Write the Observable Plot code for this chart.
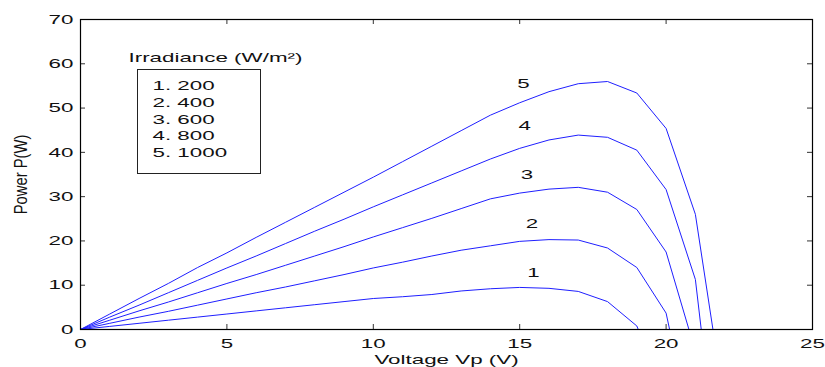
<!DOCTYPE html>
<html><head><meta charset="utf-8">
<script src="https://cdn.jsdelivr.net/npm/d3@7"></script>
<script src="https://cdn.jsdelivr.net/npm/@observablehq/plot@0.6"></script>
<style>
body{margin:0;background:#fff;}
#wrap{position:relative;width:825px;height:367px;}
#box{position:absolute;left:137px;top:69px;width:122px;height:103px;border:1px solid #222;pointer-events:none;}
</style></head><body><div id="wrap"><div id="box"></div></div>
<script>
// ---- data ----
const seriesNames = ["1", "2", "3", "4", "5"];
const irradiance = [200, 400, 600, 800, 1000];

const v200  = [0,1,2,3,4,5,6,7,8,9,10,11,12,13,14,15,16,17,18,19,19.05];
const p200  = [0,0.7,1.4,2.1,2.8,3.5,4.2,4.9,5.6,6.3,7.0,7.4,7.9,8.7,9.2,9.5,9.3,8.6,6.3,0.8,0];

const v400  = [0,1,2,3,4,5,6,7,8,9,10,11,12,13,14,15,16,17,18,19,20,20.12];
const p400  = [0,1.4,2.8,4.1,5.5,6.9,8.3,9.6,11.0,12.4,13.9,15.2,16.6,17.9,18.9,19.9,20.3,20.2,18.4,14.0,3.7,0];

const v600  = [0,1,2,3,4,5,6,7,8,9,10,11,12,13,14,15,16,17,18,19,20,20.78];
const p600  = [0,2.1,4.2,6.2,8.3,10.4,12.4,14.5,16.6,18.7,20.9,23.0,25.1,27.3,29.5,30.8,31.7,32.1,31.0,27.1,17.5,0];

const v800  = [0,1,2,3,4,5,6,7,8,9,10,11,12,13,14,15,16,17,18,19,20,21,21.2];
const p800  = [0,2.8,5.5,8.3,11.1,13.9,16.6,19.4,22.2,24.9,27.7,30.4,33.1,35.8,38.5,40.9,42.8,43.9,43.4,40.5,31.6,11.3,0];

const v1000 = [0,1,2,3,4,5,6,7,8,9,10,11,12,13,14,15,16,17,18,19,20,21,21.6];
const p1000 = [0,3.5,7.0,10.4,14.0,17.3,20.8,24.2,27.6,31.0,34.4,37.9,41.4,44.9,48.4,51.2,53.7,55.5,56.0,53.4,45.4,26.0,0];

const labelV = [15.47, 15.42, 15.25, 15.17, 15.13];
const labelP = [12.7, 23.8, 35.0, 45.9, 55.4];

const xTicks = [0, 5, 10, 15, 20, 25];
const yTicks = [0, 10, 20, 30, 40, 50, 60, 70];
const xLabel = "Voltage Vp (V)";
const yLabel = "Power P(W)";
const legendTitle = "Irradiance (W/m²)";
const legendItems = ["1. 200", "2. 400", "3. 600", "4. 800", "5. 1000"];

// ---- build table ----
const vs = [v200, v400, v600, v800, v1000];
const ps = [p200, p400, p600, p800, p1000];
const rows = vs.flatMap((v, s) => v.map((x, i) => ({s: irradiance[s], v: x, p: ps[s][i]})));
const labels = seriesNames.map((n, i) => ({n, v: labelV[i], p: labelP[i]}));

const W = 825, H = 367, mL = 80, mR = 13, mT = 19, mB = 38;
const fw = W - mL - mR, fh = H - mT - mB;
const font = "'Liberation Sans', Arial, Helvetica, sans-serif";

const plot = Plot.plot({
  width: W, height: H,
  marginLeft: mL, marginRight: mR, marginTop: mT, marginBottom: mB,
  style: {fontFamily: font, fontSize: "13px", color: "#111", background: "#fff", overflow: "visible"},
  x: {domain: [0, 25], ticks: xTicks},
  y: {domain: [0, 70], ticks: yTicks},
  marks: [
    Plot.line(rows, {x: "v", y: "p", z: "s", stroke: "#1f1fff", strokeWidth: 1}),
    Plot.ruleX(xTicks, {insetTop: fh - 5, stroke: "#333"}),
    Plot.ruleX(xTicks, {insetBottom: fh - 5, stroke: "#333"}),
    Plot.ruleY(yTicks, {insetRight: fw - 5, stroke: "#333"}),
    Plot.ruleY(yTicks, {insetLeft: fw - 5, stroke: "#333"}),
    Plot.frame({stroke: "#000", strokeWidth: 1.2}),
    Plot.axisX(xTicks, {tickSize: 0, tickPadding: 9, label: null}),
    Plot.axisY(yTicks, {tickSize: 0, tickPadding: 7, label: null}),
    Plot.text(labels, {x: "v", y: "p", text: "n", fill: "#111"}),
    Plot.text([xLabel], {frameAnchor: "bottom", lineAnchor: "middle", textAnchor: "middle", dy: 30, text: d => d, fill: "#111"}),
    Plot.text([yLabel], {frameAnchor: "left", textAnchor: "middle", lineAnchor: "middle", dx: -59, rotate: -90, text: d => d, fontSize: 19, fill: "#111"}),
    Plot.text([legendTitle], {frameAnchor: "top-left", textAnchor: "start", lineAnchor: "top", dx: 48, dy: 33, text: d => d, fill: "#111"}),
    Plot.text([legendItems.join("\n")], {frameAnchor: "top-left", textAnchor: "start", lineAnchor: "top", dx: 72, dy: 59, lineHeight: 1.28, text: d => d, fill: "#111"})
  ]
});

document.getElementById("wrap").appendChild(plot);

// stretch glyphs horizontally like the original rendering
plot.querySelectorAll("text, tspan").forEach(t => {
  if (t.querySelector && t.querySelector("tspan")) return;
  if (t.textContent === yLabel) {
    // compress along the (vertical) text direction, keeping the centre in place
    const r0 = t.getBoundingClientRect();
    const tr = t.getAttribute("transform") || "";
    t.setAttribute("transform", tr + " scale(0.78,1)");
    const r1 = t.getBoundingClientRect();
    const g = document.createElementNS("http://www.w3.org/2000/svg", "g");
    g.setAttribute("transform", `translate(${(r0.x + r0.width / 2) - (r1.x + r1.width / 2)},${(r0.y + r0.height / 2) - (r1.y + r1.height / 2)})`);
    t.parentNode.insertBefore(g, t);
    g.appendChild(t);
    return;
  }
  const len = t.getComputedTextLength();
  if (!len) return;
  t.setAttribute("textLength", (len * 1.72).toFixed(1));
  t.setAttribute("lengthAdjust", "spacingAndGlyphs");
});
</script>
</body></html>
